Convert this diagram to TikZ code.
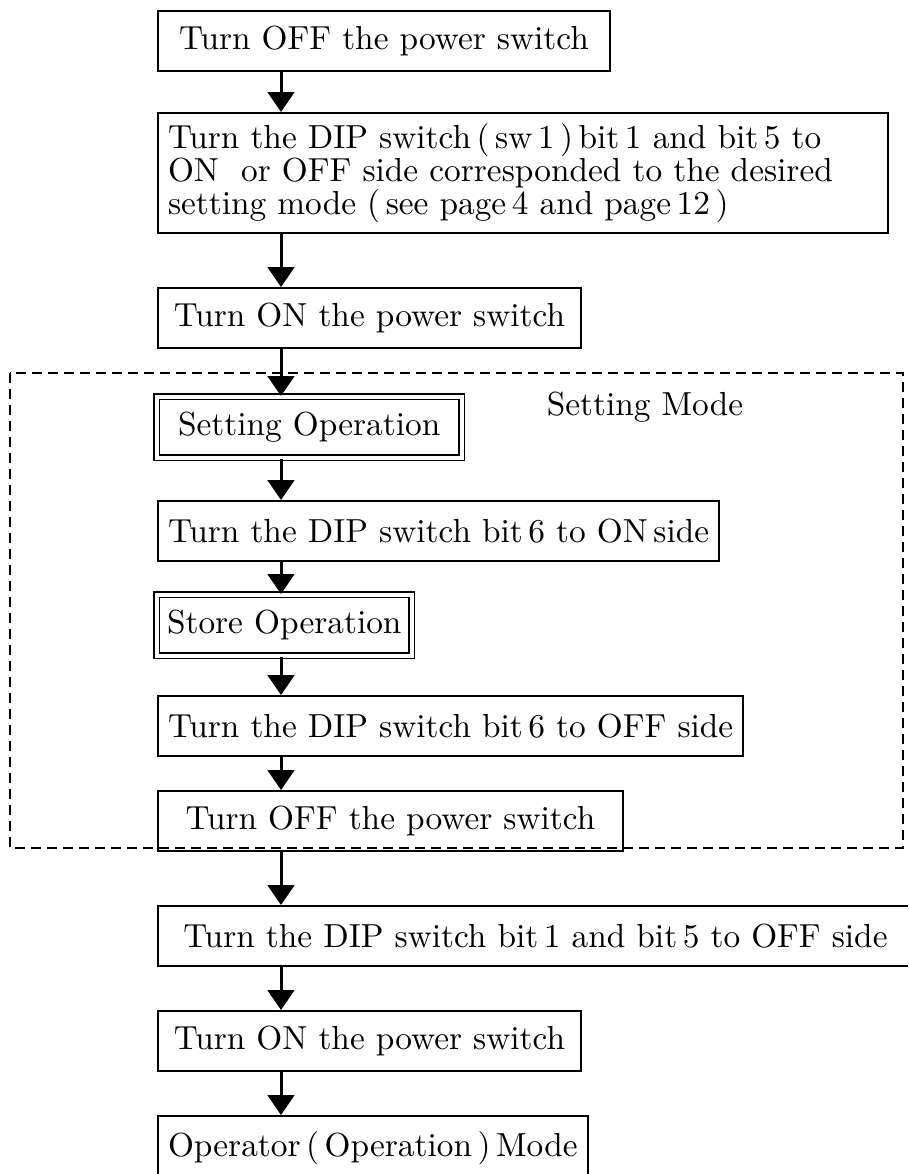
\documentclass[tikz,border=0pt]{standalone}
\usepackage{tikz}
\usetikzlibrary{arrows.meta}

\tikzset{
  stepbox/.style={draw, line width=0.6pt, anchor=north west, minimum height=18pt,
    inner sep=3pt, align=center, font=\fontsize{10}{10}\selectfont},
  opbox/.style={stepbox, double, double distance=1.1pt, line width=0.45pt},
  flow/.style={-{Triangle[width=8pt,length=6pt]}, line width=0.9pt},
  modeframe/.style={line width=0.8pt, dash pattern=on 3pt off 1.8pt},
}

\begin{document}
\begin{tikzpicture}[x=0.3pt,y=-0.3pt]
  \useasboundingbox (0,0) rectangle (908,1174);
  \clip (0,0) rectangle (908,1174);
  \coordinate (ax) at (281,0);

  \draw[modeframe] (10,373) rectangle (903,848);

  \node[stepbox, minimum width=135.6pt] (offsw) at (157,10) {Turn OFF the power switch};
  \node[stepbox, minimum height=36pt, text width=213pt, align=left] (dipset) at (157,112)
    {Turn the DIP switch\,(\,sw\,1\,)\,bit\,1 and bit\,5 to\\
     ON~ or OFF side corresponded to the desired\\
     setting mode (\,see page\,4 and page\,12\,)};
  \node[stepbox, minimum width=126.9pt] (onsw) at (157,287) {Turn ON the power switch};
  \node[opbox, minimum width=91.5pt, minimum height=18.3pt] (setop) at (156,396) {Setting Operation};
  \node[font=\fontsize{10}{10}\selectfont] (modelabel) at (645,407) {Setting Mode};
  \node[stepbox, minimum width=156.9pt] (bit6on) at (157,500) {Turn the DIP switch bit\,6 to ON\,side};
  \node[opbox, minimum width=76.5pt, minimum height=18.3pt] (storeop) at (156,594) {Store Operation};
  \node[stepbox, minimum width=159.9pt] (bit6off) at (157,695) {Turn the DIP switch bit\,6 to OFF side};
  \node[stepbox, minimum width=139.5pt] (offsw2) at (157,790) {Turn OFF the power switch};
  \node[stepbox, minimum width=226.5pt] (dipoff) at (157,905) {Turn the DIP switch bit\,1 and bit\,5 to OFF side};
  \node[stepbox, minimum width=126.9pt] (onsw2) at (157,1010) {Turn ON the power switch};
  \node[stepbox, minimum width=117pt, minimum height=19.5pt] (opmode) at (157,1115) {Operator\,(\,Operation\,)\,Mode};

  \draw[flow] (offsw.south -| ax) -- (dipset.north -| ax);
  \draw[flow] (dipset.south -| ax) -- (onsw.north -| ax);
  \draw[flow] (onsw.south -| ax) -- (setop.north -| ax);
  \draw[flow] (setop.south -| ax) -- (bit6on.north -| ax);
  \draw[flow] (bit6on.south -| ax) -- (storeop.north -| ax);
  \draw[flow] (storeop.south -| ax) -- (bit6off.north -| ax);
  \draw[flow] (bit6off.south -| ax) -- (offsw2.north -| ax);
  \draw[flow] (offsw2.south -| ax) -- (dipoff.north -| ax);
  \draw[flow] (dipoff.south -| ax) -- (onsw2.north -| ax);
  \draw[flow] (onsw2.south -| ax) -- (opmode.north -| ax);
\end{tikzpicture}
\end{document}
